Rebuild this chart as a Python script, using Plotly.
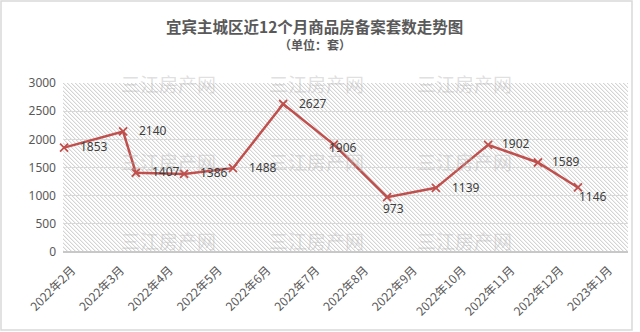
import base64
import struct
import zlib
import plotly.graph_objects as go

# Monthly housing-registration counts, Yibin main urban area
months = ["2022年2月", "2022年3月", "2022年4月", "2022年5月", "2022年6月", "2022年7月",
          "2022年8月", "2022年9月", "2022年10月", "2022年11月", "2022年12月", "2023年1月"]
# position of each record along the month axis (month index, fractional)
record_pos = [-0.04, 1.17, 1.43, 2.42, 3.42, 4.45, 5.49, 6.58, 7.58, 8.65, 9.67, 10.49]
units = [1853, 2140, 1407, 1386, 1488, 2627, 1906, 973, 1139, 1902, 1589, 1146]

# data-label placement: (anchor, x shift px, y shift px)
label_style = [("left", 14, 1)] * 6 + [("center", 9, -3), ("center", 6, -11),
                                        ("left", 14, 0), ("left", 12, 1),
                                        ("left", 12, 1), ("left", -1, -9)]

RED = "#C0504D"
GREY_TXT = "#595959"
CJK = "Noto Sans CJK SC"


def hatch_png(w, h):
    """Light grey diagonal hatch tile as a base64 PNG data URI."""
    rows = []
    for y in range(h):
        row = bytearray([0])
        for x in range(w):
            k = (x - y) % 4
            row.append(212 if k == 0 else (240 if k == 1 else 255))
        rows.append(bytes(row))

    def chunk(tag, data):
        return (struct.pack(">I", len(data)) + tag + data
                + struct.pack(">I", zlib.crc32(tag + data) & 0xFFFFFFFF))

    png = (b"\x89PNG\r\n\x1a\n"
           + chunk(b"IHDR", struct.pack(">IIBBBBB", w, h, 8, 0, 0, 0, 0))
           + chunk(b"IDAT", zlib.compress(b"".join(rows), 9))
           + chunk(b"IEND", b""))
    return "data:image/png;base64," + base64.b64encode(png).decode()


fig = go.Figure()
fig.add_trace(go.Scatter(
    x=record_pos, y=units,
    mode="lines+markers",
    line=dict(color=RED, width=2.5),
    marker=dict(symbol="x-thin", size=8, line=dict(color=RED, width=1.8), color=RED),
    showlegend=False,
    cliponaxis=False,
))

annotations = [
    dict(text="<b>宜宾主城区近12个月商品房备案套数走势图</b>", x=0.446, y=1.335,
         font=dict(family=CJK, size=15.5, color=GREY_TXT)),
    dict(text="<b>（单位：套）</b>", x=0.446, y=1.225,
         font=dict(family=CJK, size=12, color=GREY_TXT)),
]
for a in annotations:
    a.update(xref="paper", yref="paper", showarrow=False, xanchor="center", yanchor="middle")

# faint site watermark tiled over the plot
for wy in (1.0, 0.538, 0.071):
    for wx in (0.186, 0.448, 0.710):
        annotations.append(dict(text="三江房产网", x=wx, y=wy, xref="paper", yref="paper",
                                showarrow=False, xanchor="center", yanchor="middle",
                                font=dict(family=CJK, size=19, color="rgba(180,180,180,0.42)")))

# value labels next to each marker
for xv, yv, (anc, dx, dy) in zip(record_pos, units, label_style):
    annotations.append(dict(text=str(yv), x=xv, y=yv, xref="x", yref="y", showarrow=False,
                            xanchor=anc, yanchor="middle", xshift=dx, yshift=dy,
                            font=dict(family="Noto Sans", size=12, color="#404040")))

fig.update_layout(
    width=640, height=332,
    margin=dict(l=63, r=12, t=83, b=80),
    paper_bgcolor="white",
    plot_bgcolor="white",
    annotations=annotations,
    images=[dict(source=hatch_png(565, 169), xref="paper", yref="paper", x=0, y=1,
                 sizex=1, sizey=1, xanchor="left", yanchor="top", sizing="stretch",
                 layer="below")],
    shapes=[dict(type="rect", xref="paper", yref="paper",
                 x0=(1 - 63) / 565, x1=(632 - 63) / 565,
                 y0=(252 - 330) / 169, y1=(252 - 1) / 169,
                 line=dict(color="#d9d9d9", width=1.5), fillcolor="rgba(0,0,0,0)", layer="below")],
    xaxis=dict(
        range=[-0.0615, 11.516],
        tickmode="array", tickvals=list(range(len(months))), ticktext=months,
        tickangle=-45, tickfont=dict(family=CJK, size=12, color=GREY_TXT),
        ticklabelshift=6, ticklabelstandoff=8,
        showgrid=False, zeroline=False, showline=False, ticks="",
    ),
    yaxis=dict(
        range=[0, 3000], dtick=500,
        tickfont=dict(family="Noto Sans", size=12, color=GREY_TXT),
        showgrid=True, gridcolor="#d9d9d9", gridwidth=1,
        zeroline=True, zerolinecolor="#c8c8c8", zerolinewidth=1.5,
        showline=False, ticks="", ticklabelstandoff=6,
    ),
)

fig.write_html("out.html")
